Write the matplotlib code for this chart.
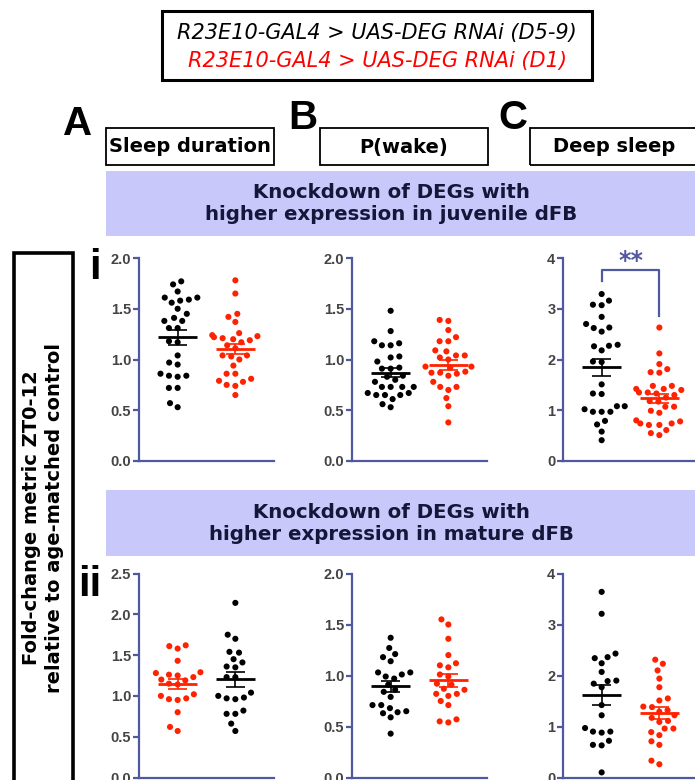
import numpy as np
import pandas as pd
import matplotlib
matplotlib.use("Agg")
import matplotlib.pyplot as plt
from matplotlib.patches import Rectangle
import seaborn as sns

W, H = 695, 780          # output size in pixels
AX_COL = "#5058A0"       # slate-blue axis colour
RED = "#FF2200"
BLACK = "#000000"
LAVENDER = "#C8C8FA"

GROUP_D59 = "D5-9"
GROUP_D1 = "D1"

# ── Data (fold change) ────────────────────────────────────────────────────────
# row i: DEGs with higher expression in juvenile dFB
sleep_i_d59 = [1.77, 1.74, 1.67, 1.61, 1.61, 1.59, 1.58, 1.56, 1.50, 1.45, 1.41, 1.38, 1.38, 1.31,
               1.31, 1.18, 1.17, 1.04, 0.97, 0.95, 0.84, 0.83, 0.84, 0.86, 0.72, 0.72, 0.57, 0.53]
sleep_i_d1 = [1.78, 1.65, 1.45, 1.42, 1.37, 1.26, 1.24, 1.23, 1.22, 1.20, 1.21, 1.19, 1.17, 1.14,
              1.11, 1.04, 1.03, 1.04, 1.00, 0.94, 0.86, 0.86, 0.79, 0.81, 0.78, 0.75, 0.74, 0.65]
pwake_i_d59 = [1.48, 1.28, 1.18, 1.14, 1.14, 1.16, 1.03, 1.02, 0.98, 0.92, 0.91, 0.91, 0.84, 0.80,
               0.83, 0.73, 0.73, 0.73, 0.73, 0.78, 0.67, 0.65, 0.65, 0.65, 0.67, 0.61, 0.56, 0.53]
pwake_i_d1 = [1.38, 1.39, 1.29, 1.22, 1.18, 1.18, 1.09, 1.08, 1.04, 1.02, 1.04, 1.00, 0.93, 0.93,
              0.87, 0.88, 0.92, 0.87, 0.86, 0.84, 0.78, 0.73, 0.73, 0.70, 0.62, 0.54, 0.38]
deep_i_d59 = [3.29, 3.16, 3.08, 3.07, 2.84, 2.70, 2.63, 2.62, 2.55, 2.27, 2.29, 2.26, 2.18, 1.96,
              1.95, 1.51, 1.32, 1.33, 1.08, 1.08, 1.02, 0.97, 0.97, 0.97, 0.79, 0.72, 0.58, 0.41]
deep_i_d1 = [2.63, 2.12, 1.91, 1.81, 1.75, 1.74, 1.48, 1.48, 1.42, 1.42, 1.40, 1.35, 1.33, 1.35,
             1.30, 1.25, 1.18, 1.17, 1.07, 1.07, 0.99, 0.95, 0.71, 0.71, 0.78, 0.74, 0.74, 0.80,
             0.51, 0.55, 0.61]

# row ii: DEGs with higher expression in mature dFB
sleep_ii_d1 = [1.62, 1.58, 1.61, 1.43, 1.29, 1.25, 1.28, 1.26, 1.20, 1.19, 1.23, 1.15, 1.14, 1.02,
               1.00, 0.95, 0.96, 0.97, 0.80, 0.62, 0.57]
sleep_ii_d59 = [2.14, 1.75, 1.70, 1.53, 1.54, 1.45, 1.36, 1.35, 1.41, 1.23, 1.23, 1.04, 0.96, 0.98,
                1.00, 0.97, 0.82, 0.78, 0.78, 0.66, 0.57]
pwake_ii_d59 = [1.37, 1.27, 1.21, 1.18, 1.14, 1.01, 1.03, 1.03, 0.99, 0.97, 0.91, 0.84, 0.86, 0.79,
                0.71, 0.71, 0.68, 0.64, 0.65, 0.63, 0.59, 0.43]
pwake_ii_d1 = [1.55, 1.50, 1.36, 1.20, 1.12, 1.08, 1.10, 0.99, 1.01, 0.86, 0.92, 0.91, 0.87, 0.82,
               0.80, 0.82, 0.75, 0.71, 0.54, 0.57, 0.55]
deep_ii_d59 = [3.64, 3.21, 2.43, 2.34, 2.36, 2.24, 2.07, 1.89, 1.90, 1.77, 1.84, 1.42, 1.22, 0.90,
               0.88, 0.90, 0.97, 0.72, 0.64, 0.63, 0.10]
deep_ii_d1 = [2.31, 2.23, 2.10, 1.94, 1.77, 1.55, 1.51, 1.38, 1.39, 1.29, 1.32, 1.22, 1.17, 1.09,
              1.11, 0.96, 0.96, 0.83, 0.89, 0.64, 0.71, 0.26, 0.33]

legend_lines = ["R23E10-GAL4 > UAS-DEG RNAi (D5-9)", "R23E10-GAL4 > UAS-DEG RNAi (D1)"]
metric_titles = ["Sleep duration", "P(wake)", "Deep sleep"]
panel_letters = ["A", "B", "C"]
band_titles = ["Knockdown of DEGs with\nhigher expression in juvenile dFB",
               "Knockdown of DEGs with\nhigher expression in mature dFB"]
row_labels = ["i", "ii"]
y_label = "Fold-change metric ZT0-12\nrelative to age-matched control"


# ── Helpers ───────────────────────────────────────────────────────────────────

def fx(x):
    return x / W


def fy(y):
    return 1 - y / H


def px_rect(x0, y0, x1, y1):
    return [fx(x0), fy(y1), (x1 - x0) / W, (y1 - y0) / H]


def add_box(fig, x0, y0, x1, y1, face="none", edge="black", lw=1.5):
    fig.add_artist(Rectangle((fx(x0), fy(y1)), (x1 - x0) / W, (y1 - y0) / H,
                             transform=fig.transFigure, facecolor=face,
                             edgecolor=edge, linewidth=lw, clip_on=False))


def scatter_panel(ax, groups, ylim, yticks, fmt):
    names = [g[0] for g in groups]
    df = pd.DataFrame({
        "group": np.concatenate([[n] * len(v) for n, v, _ in groups]),
        "value": np.concatenate([v for _, v, _ in groups]),
    })
    pal = {n: c for n, _, c in groups}
    sns.swarmplot(data=df, x="group", y="value", hue="group", order=names,
                  palette=pal, size=4.4, ax=ax, legend=False, zorder=2)
    # invisible edge -> swarm leaves a small gap between dots (like Prism)
    for coll in ax.collections:
        coll.set_edgecolor("none")
        coll.set_linewidth(1.6)

    for i, (n, v, c) in enumerate(groups):
        v = np.asarray(v)
        m = v.mean()
        sem = v.std(ddof=1) / np.sqrt(len(v))
        ax.hlines(m, i - 0.335, i + 0.335, color=c, lw=2.0, zorder=4)
        ax.hlines([m - sem, m + sem], i - 0.165, i + 0.165, color=c, lw=1.4, zorder=4, alpha=0.85)
        ax.vlines(i, m - sem, m + sem, color=c, lw=1.4, zorder=4, alpha=0.85)

    ax.set_xlim(-0.67, 1.67)
    ax.set_ylim(*ylim)
    ax.set_yticks(yticks)
    ax.set_yticklabels([fmt.format(t) for t in yticks])
    ax.set_xticks([])
    ax.set_xlabel("")
    ax.set_ylabel("")
    for s in ["top", "right"]:
        ax.spines[s].set_visible(False)
    for s in ["left", "bottom"]:
        ax.spines[s].set_color(AX_COL)
        ax.spines[s].set_linewidth(1.6)
        ax.spines[s].set_clip_on(False)
    ax.tick_params(axis="y", direction="out", length=4, width=1.6, color=AX_COL,
                   labelcolor="#444444", labelsize=10.5, pad=1.5)
    for lab in ax.get_yticklabels():
        lab.set_fontweight("bold")
        lab.set_family("Liberation Sans")
    ax.patch.set_visible(False)


# ── Figure ────────────────────────────────────────────────────────────────────

fig = plt.figure(figsize=(W / 100, H / 100), dpi=100)

# legend box
add_box(fig, 162, 11, 592, 80, lw=2.2)
fig.text(fx(377), fy(33), legend_lines[0], ha="center", va="center", style="italic",
         fontsize=15, color="black", family="DejaVu Sans")
fig.text(fx(377), fy(61), legend_lines[1], ha="center", va="center", style="italic",
         fontsize=15, color="#FF0000", family="DejaVu Sans")

# panel letters + metric header boxes
letter_pos = [(78, 124), (303, 118), (513, 118)]
box_x = [(106, 274), (320, 488), (530, 698)]
for (lx, ly), letter, (bx0, bx1), title in zip(letter_pos, panel_letters, box_x, metric_titles):
    fig.text(fx(lx), fy(ly), letter, ha="center", va="center", fontsize=29,
             fontweight="bold", family="Liberation Sans")
    add_box(fig, bx0, 128, bx1, 165, lw=1.3)
    fig.text(fx((bx0 + bx1) / 2), fy(147), title, ha="center", va="center", fontsize=14,
             fontweight="bold", family="DejaVu Sans")

# lavender bands
for (y0, y1), title in zip([(171, 236), (490, 556)], band_titles):
    add_box(fig, 106, y0, 700, y1, face=LAVENDER, edge="none", lw=0)
    fig.text(fx(391), fy((y0 + y1) / 2), title, ha="center", va="center", fontsize=14.2,
             fontweight="bold", color="#16163A", family="DejaVu Sans", linespacing=1.2)

# left y-label box
add_box(fig, 14, 253, 73, 800, lw=2.6)
fig.text(fx(43), fy(518), y_label, ha="center", va="center", rotation=90, fontsize=14,
         fontweight="bold", family="DejaVu Sans", linespacing=1.3)

# row labels
fig.text(fx(95), fy(268), row_labels[0], ha="center", va="center", fontsize=30,
         fontweight="bold", family="Liberation Sans")
fig.text(fx(90), fy(585), row_labels[1], ha="center", va="center", fontsize=30,
         fontweight="bold", family="Liberation Sans")

# scatter panels
col_x = [139, 352, 563]
row_y = [(258, 461), (573.5, 777.5)]
panels = [
    (0, 0, [(GROUP_D59, sleep_i_d59, BLACK), (GROUP_D1, sleep_i_d1, RED)], (0, 2), np.arange(0, 2.01, 0.5), "{:.1f}"),
    (0, 1, [(GROUP_D59, pwake_i_d59, BLACK), (GROUP_D1, pwake_i_d1, RED)], (0, 2), np.arange(0, 2.01, 0.5), "{:.1f}"),
    (0, 2, [(GROUP_D59, deep_i_d59, BLACK), (GROUP_D1, deep_i_d1, RED)], (0, 4), np.arange(0, 5), "{:.0f}"),
    (1, 0, [(GROUP_D1, sleep_ii_d1, RED), (GROUP_D59, sleep_ii_d59, BLACK)], (0, 2.5), np.arange(0, 2.51, 0.5), "{:.1f}"),
    (1, 1, [(GROUP_D59, pwake_ii_d59, BLACK), (GROUP_D1, pwake_ii_d1, RED)], (0, 2), np.arange(0, 2.01, 0.5), "{:.1f}"),
    (1, 2, [(GROUP_D59, deep_ii_d59, BLACK), (GROUP_D1, deep_ii_d1, RED)], (0, 4), np.arange(0, 5), "{:.0f}"),
]
axes = {}
for r, c, groups, ylim, yticks, fmt in panels:
    y0, y1 = row_y[r]
    ax = fig.add_axes(px_rect(col_x[c], y0, col_x[c] + 135, y1))
    scatter_panel(ax, groups, ylim, yticks, fmt)
    axes[(r, c)] = ax

# significance bracket on deep sleep, row i
ax = axes[(0, 2)]
ax.plot([0, 0, 1, 1], [3.54, 3.76, 3.76, 2.86], color=AX_COL, lw=1.6, clip_on=False)
ax.text(0.5, 3.95, "**", ha="center", va="center", fontsize=17, fontweight="bold",
        color=AX_COL, family="DejaVu Sans", clip_on=False)

fig.savefig("out.png", dpi=100)
